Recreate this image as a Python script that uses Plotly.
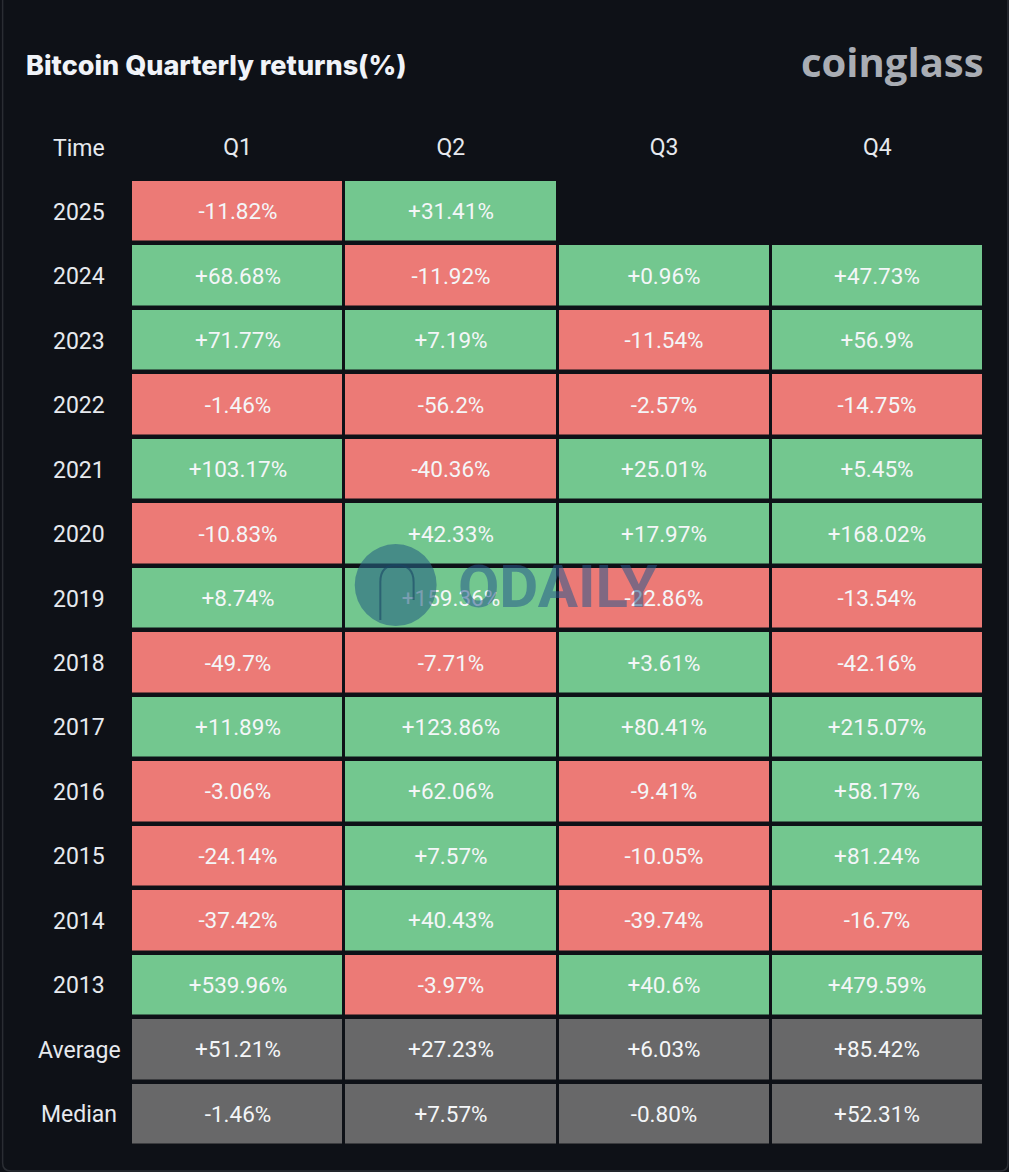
import plotly.graph_objects as go

years = ['2025', '2024', '2023', '2022', '2021', '2020', '2019', '2018',
         '2017', '2016', '2015', '2014', '2013', 'Average', 'Median']
quarters = ['Q1', 'Q2', 'Q3', 'Q4']

q1 = ['-11.82%', '+68.68%', '+71.77%', '-1.46%', '+103.17%', '-10.83%', '+8.74%', '-49.7%',
      '+11.89%', '-3.06%', '-24.14%', '-37.42%', '+539.96%', '+51.21%', '-1.46%']
q2 = ['+31.41%', '-11.92%', '+7.19%', '-56.2%', '-40.36%', '+42.33%', '+159.36%', '-7.71%',
      '+123.86%', '+62.06%', '+7.57%', '+40.43%', '-3.97%', '+27.23%', '+7.57%']
q3 = ['', '+0.96%', '-11.54%', '-2.57%', '+25.01%', '+17.97%', '-22.86%', '+3.61%',
      '+80.41%', '-9.41%', '-10.05%', '-39.74%', '+40.6%', '+6.03%', '-0.80%']
q4 = ['', '+47.73%', '+56.9%', '-14.75%', '+5.45%', '+168.02%', '-13.54%', '-42.16%',
      '+215.07%', '+58.17%', '+81.24%', '-16.7%', '+479.59%', '+85.42%', '+52.31%']

red = '#ec7a76'
green = '#73c78f'
grey = '#686869'
background = '#0e1117'


class quarterly:

    def cellcode(self, year, value):  # 0 red, 1 green, 2 grey
        if value == '':
            return None
        if year in ('Average', 'Median'):
            return 2
        return 1 if value[0] == '+' else 0

    def plot(self):
        rows = [list(x) for x in zip(q1, q2, q3, q4)]
        z = [[self.cellcode(y, v) for v in row] for y, row in zip(years, rows)]
        fig = go.Figure()
        # The coloured cells, the value is written inside each of them
        fig.add_trace(
            go.Heatmap(
                x=quarters,
                y=years,
                z=z,
                text=rows,
                texttemplate='%{text}',
                textfont=dict(family='Roboto', size=22.5, color='#f4f6f8'),
                zmin=0,
                zmax=2,
                colorscale=[[0, red], [0.33, red], [0.33, green],
                            [0.66, green], [0.66, grey], [1, grey]],
                showscale=False,
                xgap=3,
                ygap=4.5,
                hoverongaps=False
            )
        )
        # Row names are centered in their column, tick labels can not do that
        for i, y in enumerate(years):
            fig.add_annotation(x=-0.0609, y=i, xref='paper', yref='y', text=y, yshift=-1,
                               showarrow=False, xanchor='center', yanchor='middle',
                               font=dict(family='Roboto', size=23, color='#e6e9ee'))
        fig.add_annotation(x=-0.0609, y=1.0311, xref='paper', yref='paper', text='Time',
                           showarrow=False, xanchor='center', yanchor='middle',
                           font=dict(family='Roboto', size=23, color='#e6e9ee'))
        # Logo top right
        fig.add_annotation(x=1.002, y=1.122, xref='paper', yref='paper', text='<b>coinglass</b>',
                           showarrow=False, xanchor='right', yanchor='middle',
                           font=dict(family='Open Sans', size=40, color='#a9adb4'))
        # Watermark over the table
        fig.add_annotation(x=0.5, y=0.579, xref='paper', yref='paper', text='<b>ODAILY</b>',
                           showarrow=False, xanchor='center', yanchor='middle',
                           font=dict(family='Roboto', size=60, color='rgba(40,90,140,0.55)'))
        fig.add_shape(type='circle', xref='paper', yref='paper', x0=0.2623, x1=0.3583,
                      y0=0.5377, y1=0.6225, line_width=0, fillcolor='rgba(40,100,130,0.6)')
        # arch inside the watermark circle
        fig.add_shape(type='path', xref='paper', yref='paper',
                      path='M 0.2923,0.5439 L 0.2923,0.5832 Q 0.2923,0.6008 0.3113,0.6008 '
                           'Q 0.3313,0.6008 0.3313,0.5832 L 0.3313,0.5646',
                      line=dict(color='rgba(25,70,100,0.6)', width=2))
        # Thin rounded outline of the card
        fig.add_shape(type='path', xref='paper', yref='paper', layer='below',
                      path='M -0.1505,1.19 L -0.1505,-0.0176 Q -0.1505,-0.0258 -0.1405,-0.0258 '
                           'L 1.0195,-0.0258 Q 1.0281,-0.0258 1.0281,-0.0176 L 1.0281,1.19',
                      line=dict(color='#2a2d33', width=1.5))
        # Make it pretty
        layout = go.Layout(
            width=1009,
            height=1172,
            margin=dict(l=130.5, r=25, t=179, b=26),
            plot_bgcolor=background,
            paper_bgcolor=background,
            title=dict(text='Bitcoin Quarterly returns(%)', x=26 / 1009, xanchor='left',
                       y=0.9437, yanchor='middle',
                       font=dict(family='Inter', size=27, weight=800, color='#f0f3f8')),
            xaxis=dict(side='top', showgrid=False, zeroline=False, ticks='outside', ticklen=14,
                       tickcolor=background,
                       tickfont=dict(family='Roboto', size=23, color='#e6e9ee')),
            yaxis=dict(autorange='reversed', type='category', showgrid=False, zeroline=False, showticklabels=False),
            showlegend=False
        )
        fig.update_layout(layout)
        fig.write_html('out.html', config=dict(displayModeBar=False),
                       post_script="document.body.style.margin='0';")


quarterly().plot()
